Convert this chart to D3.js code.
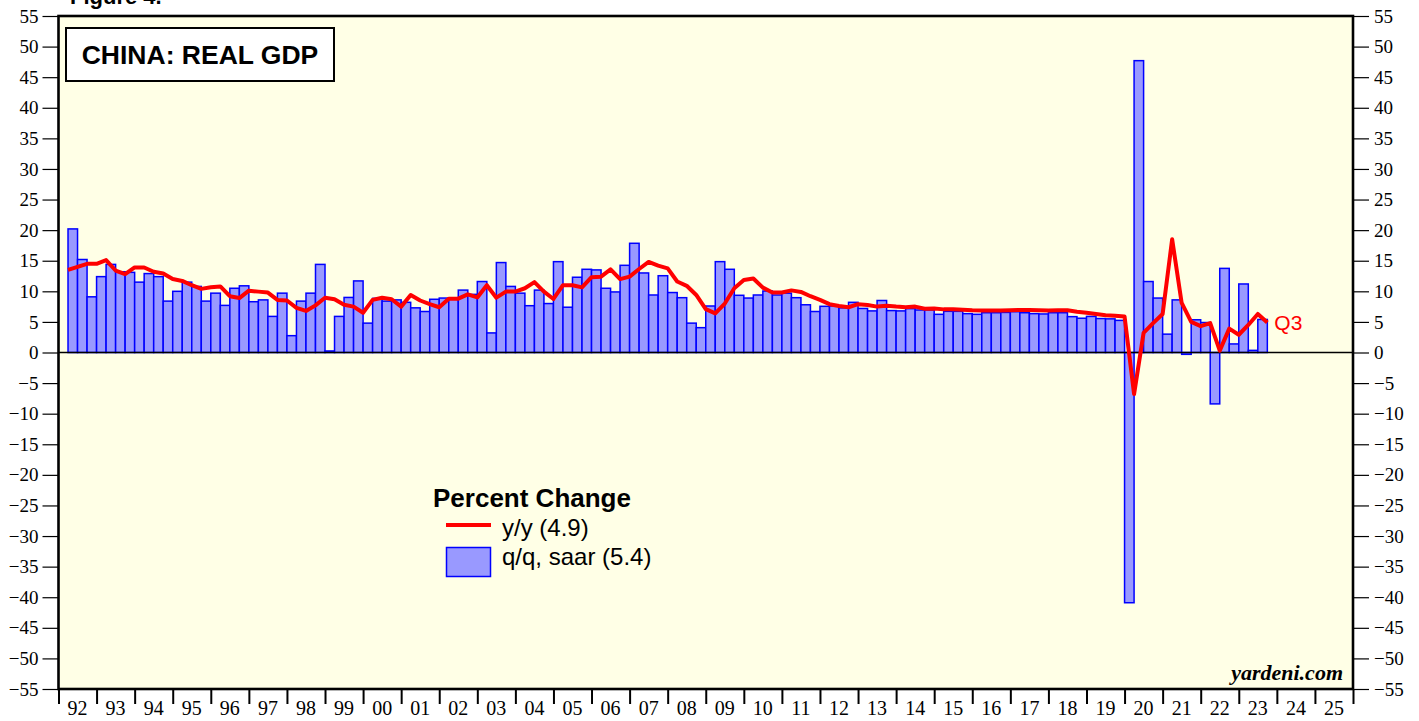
<!DOCTYPE html>
<html>
<head>
<meta charset="utf-8">
<script src="https://cdn.jsdelivr.net/npm/d3@7"></script>
<style>
  html, body { margin: 0; padding: 0; background: #fff; }
  svg { display: block; }
  .serif { font-family: "Liberation Serif", "Times New Roman", serif; }
  .sans { font-family: "Liberation Sans", Arial, sans-serif; }
</style>
</head>
<body>
<svg id="chart" width="1419" height="721"></svg>
<script>
// China: real GDP, percent change (quarterly)

// y/y series, 1992 Q1 .. 2023 Q3 (plotted at quarter end)
const yoyStart = 1992;
const yoy = [
  13.5, 14.0, 14.5, 14.5, 15.1, 13.4, 12.8, 13.9, 13.9, 13.2, 12.9, 12.0,
  11.7, 11.0, 10.4, 10.65, 10.8, 9.2, 8.9, 10.1, 9.95, 9.8, 8.6, 8.5,
  7.3, 6.8, 7.7, 8.96, 8.7, 7.8, 7.5, 6.5, 8.6, 8.96, 8.7, 7.5,
  9.4, 8.5, 7.9, 7.4, 8.8, 8.8, 9.5, 9.0, 11.0, 8.96, 9.95, 9.95,
  10.5, 11.5, 9.95, 8.75, 11.0, 11.0, 10.65, 12.3, 12.4, 13.6, 12.0, 12.4,
  13.65, 14.8, 14.2, 13.75, 11.6, 10.9, 9.4, 7.1, 6.4, 8.0, 10.5, 11.85,
  12.1, 10.6, 9.8, 9.8, 10.15, 9.9, 9.2, 8.6, 7.9, 7.6, 7.4, 7.9,
  7.75, 7.5, 7.65, 7.5, 7.4, 7.5, 7.15, 7.2, 7.05, 7.05, 7.0, 6.9,
  6.85, 6.85, 6.85, 6.9, 6.95, 6.95, 6.9, 6.85, 6.9, 6.9, 6.67, 6.5,
  6.3, 6.1, 6.0, 5.9, -6.8, 3.2, 4.8, 6.3, 18.5, 8.1, 5.0, 4.3,
  4.8, 0.3, 3.9, 2.9, 4.5, 6.3, 4.9
];

// q/q saar series, 1992 Q2 .. 2023 Q3 (bar spans the quarter)
const qoqStart = 1992.25;
const qoq = [
  20.2, 15.2, 9.1, 12.4, 14.4, 13.2, 13.1, 11.5, 12.9, 12.4, 8.4, 10.0,
  11.5, 10.8, 8.4, 9.7, 7.7, 10.5, 10.9, 8.3, 8.6, 5.9, 9.7, 2.75,
  8.4, 9.7, 14.4, 0.25, 5.9, 9.0, 11.7, 4.8, 8.85, 8.4, 8.6, 8.2,
  7.3, 6.7, 8.7, 8.9, 8.8, 10.2, 9.5, 11.6, 3.2, 14.7, 10.8, 9.7,
  7.65, 10.2, 8.0, 14.85, 7.4, 12.3, 13.6, 13.5, 10.5, 9.9, 14.25, 17.85,
  13.0, 9.4, 12.55, 9.8, 8.96, 4.8, 4.06, 7.6, 14.85, 13.6, 9.35, 8.9,
  9.4, 10.05, 9.4, 9.7, 8.96, 7.8, 6.7, 7.55, 7.6, 7.3, 8.2, 7.2,
  6.8, 8.5, 6.85, 6.8, 7.17, 6.95, 6.95, 6.24, 6.73, 6.73, 6.35, 6.24,
  6.5, 6.5, 6.55, 6.67, 6.5, 6.35, 6.3, 6.5, 6.5, 5.86, 5.6, 5.9,
  5.55, 5.5, 5.25, -40.9, 47.7, 11.6, 8.9, 3.0, 8.6, -0.3, 5.35, 4.9,
  -8.4, 13.75, 1.4, 11.2, 0.35, 5.4
];

const yearLabels = ['92','93','94','95','96','97','98','99','00','01','02','03',
  '04','05','06','07','08','09','10','11','12','13','14','15','16','17','18',
  '19','20','21','22','23','24','25'];
const yTicks = d3.range(-55, 56, 5);

const PLOT_BG = '#ffffe6';
const BAR_FILL = '#9999ff';
const BAR_STROKE = '#0000ff';
const LINE_COLOR = '#ff0000';

const svg = d3.select('#chart');

const x = d3.scaleLinear().domain([1992, 2026]).range([58.5, 1353]);
const y = d3.scaleLinear().domain([-55, 55]).range([689, 16]);

// plot background
svg.append('rect')
  .attr('x', x(1992)).attr('y', y(55))
  .attr('width', x(2026) - x(1992)).attr('height', y(-55) - y(55))
  .attr('fill', PLOT_BG);

// bars (q/q, saar)
svg.append('g').selectAll('rect')
  .data(qoq)
  .enter().append('rect')
  .attr('x', (d, i) => x(qoqStart + i / 4))
  .attr('width', (d, i) => x(qoqStart + (i + 1) / 4) - x(qoqStart + i / 4))
  .attr('y', d => y(Math.max(0, d)))
  .attr('height', d => Math.abs(y(d) - y(0)))
  .attr('fill', BAR_FILL)
  .attr('stroke', BAR_STROKE)
  .attr('stroke-width', 1.5);

// zero line
svg.append('line')
  .attr('x1', x(1992)).attr('x2', x(2026))
  .attr('y1', y(0)).attr('y2', y(0))
  .attr('stroke', '#000').attr('stroke-width', 1.3);

// y/y line
const line = d3.line()
  .x((d, i) => x(yoyStart + (i + 1) / 4))
  .y(d => y(d));

svg.append('path')
  .datum(yoy)
  .attr('d', line)
  .attr('fill', 'none')
  .attr('stroke', LINE_COLOR)
  .attr('stroke-width', 4)
  .attr('stroke-linejoin', 'round');

svg.append('text')
  .attr('class', 'sans')
  .attr('x', x(yoyStart + yoy.length / 4) + 7)
  .attr('y', 330)
  .attr('font-size', 21)
  .attr('fill', LINE_COLOR)
  .text('Q3');

// axes
const yLeft = d3.axisLeft(y).tickValues(yTicks).tickSize(16).tickPadding(4);
const yRight = d3.axisRight(y).tickValues(yTicks).tickSize(16).tickPadding(5);

function styleAxis(g) {
  g.select('.domain').remove();
  g.selectAll('.tick line').attr('stroke', '#000').attr('stroke-width', 1.2);
  g.selectAll('.tick text')
    .attr('class', 'serif')
    .attr('font-size', 19)
    .attr('fill', '#000');
}

svg.append('g')
  .attr('transform', `translate(${x(1992)},0)`)
  .call(yLeft)
  .call(styleAxis);

svg.append('g')
  .attr('transform', `translate(${x(2026)},0)`)
  .call(yRight)
  .call(styleAxis);

const xAxis = d3.axisBottom(x)
  .tickValues(d3.range(1992, 2027))
  .tickSize(15)
  .tickFormat('');

svg.append('g')
  .attr('transform', `translate(0,${y(-55)})`)
  .call(xAxis)
  .call(g => {
    g.select('.domain').remove();
    g.selectAll('.tick line').attr('stroke', '#000').attr('stroke-width', 2);
  });

svg.append('g').selectAll('text')
  .data(yearLabels)
  .enter().append('text')
  .attr('class', 'serif')
  .attr('x', (d, i) => x(1992 + i + 0.5))
  .attr('y', 715)
  .attr('text-anchor', 'middle')
  .attr('font-size', 20)
  .attr('fill', '#000')
  .text(d => d);

// plot border
svg.append('rect')
  .attr('x', x(1992)).attr('y', y(55))
  .attr('width', x(2026) - x(1992)).attr('height', y(-55) - y(55))
  .attr('fill', 'none')
  .attr('stroke', '#000')
  .attr('stroke-width', 2.6);

// figure caption (cut off at top, as in the source)
svg.append('text')
  .attr('class', 'sans')
  .attr('x', 70).attr('y', 4)
  .attr('font-size', 22)
  .attr('font-weight', 'bold')
  .text('Figure 4.');

// title box
svg.append('rect')
  .attr('x', 66).attr('y', 28)
  .attr('width', 268).attr('height', 53)
  .attr('fill', '#fff')
  .attr('stroke', '#000')
  .attr('stroke-width', 2);

svg.append('text')
  .attr('class', 'sans')
  .attr('x', 200).attr('y', 64)
  .attr('text-anchor', 'middle')
  .attr('font-size', 26.5)
  .attr('font-weight', 'bold')
  .text('CHINA: REAL GDP');

// legend
const legend = svg.append('g').attr('class', 'sans');

legend.append('text')
  .attr('x', 433).attr('y', 507)
  .attr('font-size', 26)
  .attr('font-weight', 'bold')
  .text('Percent Change');

legend.append('line')
  .attr('x1', 446).attr('x2', 491)
  .attr('y1', 525).attr('y2', 525)
  .attr('stroke', LINE_COLOR)
  .attr('stroke-width', 4);

legend.append('text')
  .attr('x', 502).attr('y', 536)
  .attr('font-size', 24)
  .text('y/y (4.9)');

legend.append('rect')
  .attr('x', 446.5).attr('y', 547.5)
  .attr('width', 44).attr('height', 29)
  .attr('fill', BAR_FILL)
  .attr('stroke', BAR_STROKE)
  .attr('stroke-width', 1.5);

legend.append('text')
  .attr('x', 502).attr('y', 565)
  .attr('font-size', 24)
  .text('q/q, saar (5.4)');

// source
svg.append('text')
  .attr('class', 'serif')
  .attr('x', 1343).attr('y', 680)
  .attr('text-anchor', 'end')
  .attr('font-size', 22)
  .attr('font-weight', 'bold')
  .attr('font-style', 'italic')
  .text('yardeni.com');
</script>
</body>
</html>
